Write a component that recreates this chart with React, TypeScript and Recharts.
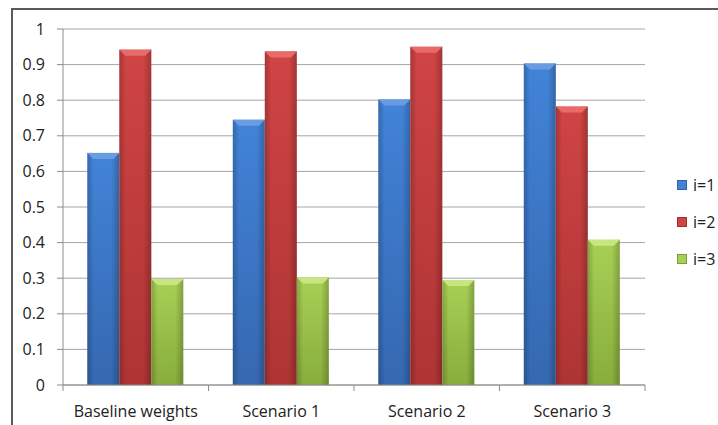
import { Bar, BarChart, CartesianGrid, XAxis, YAxis } from "recharts";

const categories = ["Baseline weights", "Scenario 1", "Scenario 2", "Scenario 3"];
const seriesI1 = [0.652, 0.745, 0.802, 0.903];
const seriesI2 = [0.942, 0.937, 0.95, 0.782];
const seriesI3 = [0.298, 0.302, 0.295, 0.408];
const seriesNames = ["i=1", "i=2", "i=3"];
const yTicks = [0, 0.1, 0.2, 0.3, 0.4, 0.5, 0.6, 0.7, 0.8, 0.9, 1];

const data = categories.map((name, i) => ({
  name,
  i1: seriesI1[i],
  i2: seriesI2[i],
  i3: seriesI3[i],
}));

const W = 718;
const H = 425;
const M = { top: 29, right: 73, bottom: 0, left: 3 };
const Y_W = 60;
const FONT = "'Open Sans', sans-serif";
const half = (W - M.left - Y_W - M.right) / categories.length / 2;

const palette = {
  blue: { top: "#4283d8", bottom: "#3568b0", cap: "#6a9ce2" },
  red: { top: "#d04444", bottom: "#ae3434", cap: "#e86a6a" },
  green: { top: "#a8d055", bottom: "#88ad3c", cap: "#c8e680" },
};
const tones = ["blue", "red", "green"] as const;

function Bevel(props: any) {
  const { x, y, width, height, tone } = props;
  if (!height || height <= 0) return null;
  const b = Math.min(6, height / 2);
  return (
    <g>
      <rect x={x} y={y} width={width} height={height} fill={`url(#v-${tone})`} />
      <rect x={x} y={y} width={width} height={height} fill="url(#shade)" />
      <polygon
        points={`${x},${y} ${x + width},${y} ${x + width - b},${y + b} ${x + b},${y + b}`}
        fill={(palette as any)[tone].cap}
      />
    </g>
  );
}

function XTick(props: any) {
  const { x, y, payload, index } = props;
  const last = index === categories.length - 1;
  return (
    <g>
      <line x1={x - half} y1={y - 8} x2={x - half} y2={y - 2} stroke="#8c8c8c" />
      {last ? <line x1={x + half} y1={y - 8} x2={x + half} y2={y - 2} stroke="#8c8c8c" /> : null}
      <text x={x} y={y + 24} textAnchor="middle" fontSize={16} fill="#222" fontFamily={FONT}>
        {payload.value}
      </text>
    </g>
  );
}

export default function App() {
  return (
    <div style={{ position: "absolute", left: 0, top: 0, width: W, height: H, background: "#fff", overflow: "hidden" }}>
      <div
        style={{
          position: "absolute",
          left: 11,
          top: 8,
          width: W,
          height: H,
          borderLeft: "2px solid #5a5a5a",
          borderTop: "2px solid #5a5a5a",
        }}
      />
      <BarChart
        width={W}
        height={H}
        data={data}
        margin={M}
        barCategoryGap="16.7%"
        barGap={0}
        style={{ position: "absolute", left: 0, top: 0 }}
      >
        <defs>
          {Object.entries(palette).map(([k, c]) => (
            <linearGradient key={k} id={`v-${k}`} x1="0" y1="0" x2="0" y2="1">
              <stop offset="0%" stopColor={c.top} />
              <stop offset="100%" stopColor={c.bottom} />
            </linearGradient>
          ))}
          <linearGradient id="shade" x1="0" y1="0" x2="1" y2="0">
            <stop offset="0%" stopColor="#000" stopOpacity={0.2} />
            <stop offset="20%" stopColor="#000" stopOpacity={0} />
            <stop offset="75%" stopColor="#000" stopOpacity={0} />
            <stop offset="100%" stopColor="#000" stopOpacity={0.22} />
          </linearGradient>
        </defs>
        <CartesianGrid vertical={false} stroke="#a6a6a6" />
        <XAxis
          dataKey="name"
          tickLine={false}
          axisLine={{ stroke: "#8c8c8c" }}
          tick={<XTick />}
          height={40}
          interval={0}
        />
        <YAxis
          width={Y_W}
          domain={[0, 1]}
          ticks={yTicks}
          interval={0}
          axisLine={{ stroke: "#8c8c8c" }}
          tickLine={{ stroke: "#8c8c8c" }}
          tickSize={6}
          tickMargin={12}
          tick={{ fontSize: 16, fill: "#222", fontFamily: FONT }}
        />
        <Bar dataKey="i1" name="i=1" fill="#3b73c1" isAnimationActive={false} shape={<Bevel tone="blue" />} />
        <Bar dataKey="i2" name="i=2" fill="#c43c3c" isAnimationActive={false} shape={<Bevel tone="red" />} />
        <Bar dataKey="i3" name="i=3" fill="#9bc44a" isAnimationActive={false} shape={<Bevel tone="green" />} />
      </BarChart>
      <div style={{ position: "absolute", left: 677, top: 166, fontFamily: FONT, fontSize: 16, color: "#222" }}>
        {seriesNames.map((n, i) => (
          <div key={n} style={{ display: "flex", alignItems: "center", height: 37 }}>
            <span
              style={{
                width: 8,
                height: 8,
                marginRight: 6,
                background: palette[tones[i]].top,
                border: "1px solid rgba(0,0,0,0.25)",
              }}
            />
            {n}
          </div>
        ))}
      </div>
    </div>
  );
}
